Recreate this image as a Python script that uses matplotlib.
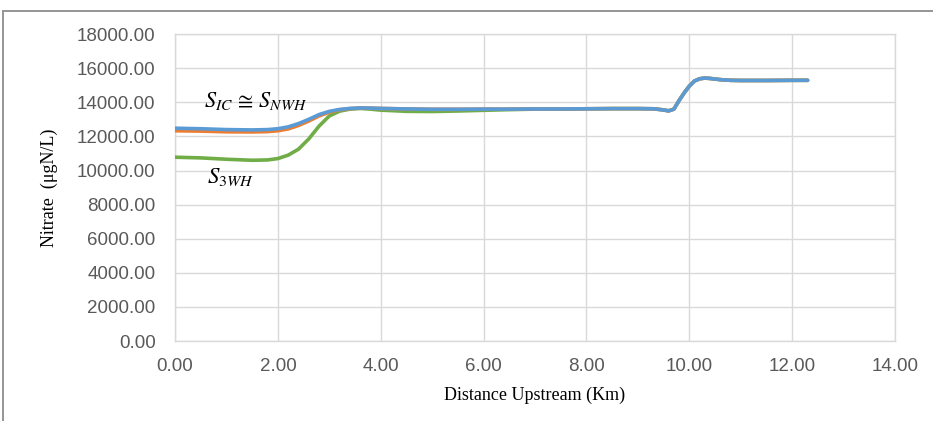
import matplotlib.pyplot as plt
from matplotlib.patches import Rectangle

# distance upstream (km) and nitrate (ugN/L) for each scenario
x_nwh = [0.0, 0.5, 1.0, 1.5, 1.8, 2.0, 2.2, 2.4, 2.6, 2.8, 3.0, 3.2, 3.4, 3.6, 3.8,
         4.0, 4.5, 5.0, 5.5, 6.0, 6.5, 7.0, 7.5, 8.0, 8.5, 9.0, 9.3, 9.45, 9.6, 9.7,
         9.8, 9.9, 10.0, 10.1, 10.2, 10.3, 10.4, 10.6, 10.8, 11.0, 11.5, 12.0, 12.3]
y_nwh = [12480, 12450, 12400, 12380, 12400, 12450, 12560, 12750, 13000, 13280, 13470,
         13580, 13640, 13670, 13660, 13640, 13610, 13590, 13590, 13600, 13600, 13610,
         13610, 13620, 13630, 13630, 13620, 13570, 13500, 13600, 14100, 14550, 14950,
         15250, 15380, 15420, 15400, 15330, 15290, 15280, 15280, 15290, 15290]

x_ic = [0.0, 0.5, 1.0, 1.5, 1.8, 2.0, 2.2, 2.4, 2.6, 2.8, 3.0, 3.2, 3.4, 3.6, 3.8,
        4.0, 4.5, 5.0, 5.5, 6.0, 6.5, 7.0, 7.5, 8.0, 8.5, 9.0, 9.3, 9.45, 9.6, 9.7,
        9.8, 9.9, 10.0, 10.1, 10.2, 10.3, 10.4, 10.6, 10.8, 11.0, 11.5, 12.0, 12.3]
y_ic = [12330, 12310, 12270, 12260, 12280, 12330, 12440, 12640, 12900, 13200, 13420,
        13560, 13630, 13660, 13660, 13640, 13610, 13590, 13590, 13600, 13600, 13610,
        13610, 13620, 13630, 13630, 13620, 13570, 13500, 13600, 14100, 14550, 14950,
        15250, 15380, 15420, 15400, 15330, 15290, 15280, 15280, 15290, 15290]

x_3wh = [0.0, 0.5, 1.0, 1.5, 1.8, 2.0, 2.2, 2.4, 2.6, 2.8, 3.0, 3.2, 3.4, 3.6, 3.8,
         4.0, 4.5, 5.0, 5.5, 6.0, 6.5, 7.0, 7.5, 8.0, 8.5, 9.0, 9.3, 9.45, 9.6, 9.7,
         9.8, 9.9, 10.0, 10.1, 10.2, 10.3, 10.4, 10.6, 10.8, 11.0, 11.5, 12.0, 12.3]
y_3wh = [10780, 10740, 10660, 10600, 10620, 10700, 10900, 11250, 11850, 12600, 13200,
         13480, 13600, 13640, 13600, 13540, 13470, 13460, 13490, 13530, 13570, 13600,
         13610, 13620, 13630, 13630, 13620, 13570, 13500, 13600, 14100, 14550, 14950,
         15250, 15380, 15420, 15400, 15330, 15290, 15280, 15280, 15290, 15290]

x_ticks = [0, 2, 4, 6, 8, 10, 12, 14]
y_ticks = [0, 2000, 4000, 6000, 8000, 10000, 12000, 14000, 16000, 18000]

plt.rcParams['mathtext.fontset'] = 'stix'

fig = plt.figure(figsize=(9.33, 4.21), dpi=100)
ax = fig.add_axes([0.1876, 0.19, 0.7717, 0.729])

# outer frame of the chart area
fig.patches.append(Rectangle((3 / 933, -0.1), 1.2, 1 - 11 / 421 + 0.1,
                             transform=fig.transFigure, fill=False,
                             edgecolor='#8c8c8c', linewidth=1.3))

ax.plot(x_3wh, y_3wh, color='#70AD47', linewidth=2.6, solid_capstyle='round', zorder=3)
ax.plot(x_ic, y_ic, color='#ED7D31', linewidth=2.6, solid_capstyle='round', zorder=4)
ax.plot(x_nwh, y_nwh, color='#5B9BD5', linewidth=2.6, solid_capstyle='round', zorder=5)

ax.set_xlim(0, 14)
ax.set_ylim(0, 18000)
ax.set_xticks(x_ticks)
ax.set_yticks(y_ticks)
ax.set_xticklabels([f'{v:.2f}' for v in x_ticks])
ax.set_yticklabels([f'{v:.2f}' for v in y_ticks])
ax.grid(True, color='#d9d9d9', linewidth=1.0)
ax.set_axisbelow(True)
for s in ax.spines.values():
    s.set_color('#d9d9d9')
    s.set_linewidth(1.0)
ax.tick_params(length=0, labelsize=13.5, labelcolor='#595959')
ax.tick_params(axis='y', pad=14)
ax.tick_params(axis='x', pad=12)
for lab in ax.get_xticklabels() + ax.get_yticklabels():
    lab.set_family('Liberation Sans')

ax.set_xlabel('Distance Upstream (Km)', family='Liberation Serif', fontsize=13, labelpad=9)
ax.set_ylabel('Nitrate  (\u03bcgN/L)', family='Liberation Serif', fontsize=13, labelpad=14)

ax.text(0.56, 14075, r'$S_{IC}\,\cong\,S_{NWH}$', fontsize=16, va='center', ha='left')
ax.text(0.62, 9620, r'$S_{3WH}$', fontsize=16.5, va='center', ha='left')

fig.savefig('out.png', dpi=100, facecolor='white')
